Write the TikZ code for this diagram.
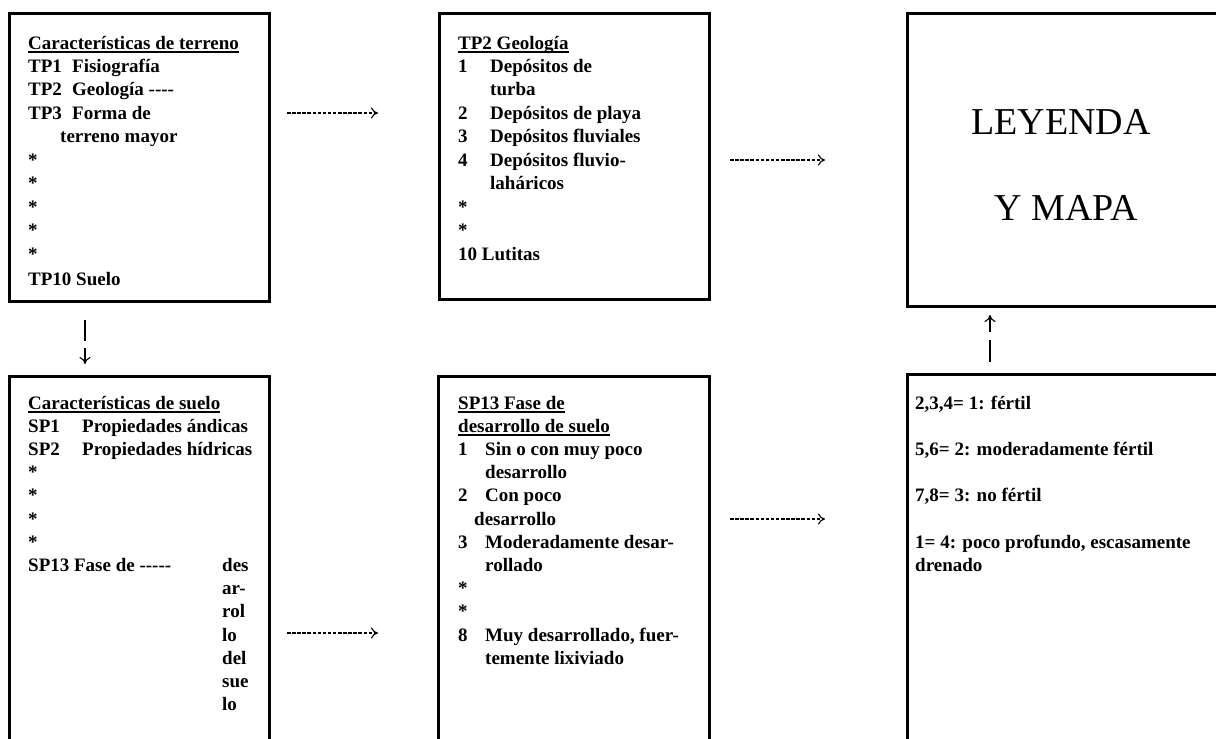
\documentclass[tikz,border=0pt]{standalone}
\usepackage{fontspec}
\setmainfont{Liberation Serif}
\usetikzlibrary{arrows.meta}
\newcommand\myul[1]{\setbox0\hbox{#1}\rlap{\rule[-3.6pt]{\wd0}{1.8pt}}\box0}
\tikzset{
 box/.style={draw, line width=2.6pt, anchor=north west, inner sep=0pt},
 txt/.style={anchor=base west, inner sep=0pt, font=\bfseries\fontsize{19}{23}\selectfont},
 big/.style={anchor=center, inner sep=0pt, font=\fontsize{38}{40}\selectfont},
 dasharrow/.style={line width=1.1pt, dash pattern=on 3.5pt off 1.6pt, -{To[length=7pt,width=11pt]}},
 vline/.style={line width=2pt},
 varrow/.style={line width=1.1pt, -{To[length=7pt,width=11pt]}},
}
\begin{document}
\begin{tikzpicture}[x=1pt,y=-1pt]
\useasboundingbox (0,0) rectangle (1216,739);
\fill[white] (0,0) rectangle (1216,739);
% boxes
\node[box, minimum width=260pt, minimum height=288pt] (b1) at (8,12) {};
\node[box, minimum width=270pt, minimum height=286pt] (b2) at (438,12) {};
\node[box, minimum width=316pt, minimum height=293pt] (b3) at (906,12) {};
\node[box, minimum width=260pt, minimum height=380pt] (b4) at (8,375) {};
\node[box, minimum width=271pt, minimum height=380pt] (b5) at (437,375) {};
\node[box, minimum width=316pt, minimum height=382pt] (b6) at (906,373) {};
% box 1
\node[txt] (t1h) at (28,49) {\myul{Características de terreno}};
\node[txt] (t1a) at (28,72) {TP1};
\node[txt] (t1b) at (72,72) {Fisiografía};
\node[txt] (t1c) at (28,95.5) {TP2};
\node[txt] (t1d) at (72,95.5) {Geología -{}-{}-{}-};
\node[txt] (t1e) at (28,119) {TP3};
\node[txt] (t1f) at (72,119) {Forma de};
\node[txt] (t1g) at (60,142.5) {terreno mayor};
\node[txt] (t1s1) at (28,166) {*};
\node[txt] (t1s2) at (28,189.5) {*};
\node[txt] (t1s3) at (28,213) {*};
\node[txt] (t1s4) at (28,236.5) {*};
\node[txt] (t1s5) at (28,260) {*};
\node[txt] (t1z) at (28,285) {TP10 Suelo};
% box 2
\node[txt] (t2h) at (458,49) {\myul{TP2 Geología}};
\node[txt] (t2n1) at (458,72) {1};
\node[txt] (t2a) at (490,72) {Depósitos de};
\node[txt] (t2b) at (490,95.5) {turba};
\node[txt] (t2n2) at (458,119) {2};
\node[txt] (t2c) at (490,119) {Depósitos de playa};
\node[txt] (t2n3) at (458,142.5) {3};
\node[txt] (t2d) at (490,142.5) {Depósitos fluviales};
\node[txt] (t2n4) at (458,166) {4};
\node[txt] (t2e) at (490,166) {Depósitos fluvio-};
\node[txt] (t2f) at (490,189.5) {laháricos};
\node[txt] (t2s1) at (458,213) {*};
\node[txt] (t2s2) at (458,236.5) {*};
\node[txt] (t2z) at (458,260) {10 Lutitas};
% box 3
\node[big] (t3a) at (1061,122) {LEYENDA};
\node[big] (t3b) at (1066,208) {Y MAPA};
% box 4
\node[txt] (t4h) at (28,409) {\myul{Características de suelo}};
\node[txt] (t4a) at (28,432.2) {SP1};
\node[txt] (t4b) at (82,432.2) {Propiedades ándicas};
\node[txt] (t4c) at (28,455.4) {SP2};
\node[txt] (t4d) at (82,455.4) {Propiedades hídricas};
\node[txt] (t4s1) at (28,478.6) {*};
\node[txt] (t4s2) at (28,501.8) {*};
\node[txt] (t4s3) at (28,525) {*};
\node[txt] (t4s4) at (28,548.2) {*};
\node[txt] (t4e) at (28,571.4) {SP13 Fase de -{}-{}-{}-{}-};
\node[txt] (t4f1) at (222,571.4) {des};
\node[txt] (t4f2) at (222,594.6) {ar-};
\node[txt] (t4f3) at (222,617.8) {rol};
\node[txt] (t4f4) at (222,641) {lo};
\node[txt] (t4f5) at (222,664.2) {del};
\node[txt] (t4f6) at (222,687.4) {sue};
\node[txt] (t4f7) at (222,710.6) {lo};
% box 5
\node[txt] (t5h1) at (458,409) {\myul{SP13 Fase de}};
\node[txt] (t5h2) at (458,432.2) {\myul{desarrollo de suelo}};
\node[txt] (t5n1) at (458,455.4) {1};
\node[txt] (t5a) at (485,455.4) {Sin o con muy poco};
\node[txt] (t5b) at (485,478.6) {desarrollo};
\node[txt] (t5n2) at (458,501.8) {2};
\node[txt] (t5c) at (485,501.8) {Con poco};
\node[txt] (t5d) at (474,525) {desarrollo};
\node[txt] (t5n3) at (458,548.2) {3};
\node[txt] (t5e) at (485,548.2) {Moderadamente desar-};
\node[txt] (t5f) at (485,571.4) {rollado};
\node[txt] (t5s1) at (458,594.6) {*};
\node[txt] (t5s2) at (458,617.8) {*};
\node[txt] (t5n8) at (458,641) {8};
\node[txt] (t5g) at (485,641) {Muy desarrollado, fuer-};
\node[txt] (t5h) at (485,664.2) {temente lixiviado};
% box 6
\node[txt] (t6a) at (915,409) {2,3,4= 1: fértil};
\node[txt] (t6b) at (915,455.4) {5,6= 2: moderadamente fértil};
\node[txt] (t6c) at (915,501.8) {7,8= 3: no fértil};
\node[txt] (t6d) at (915,548.2) {1= 4: poco profundo, escasamente};
\node[txt] (t6e) at (915,571.4) {drenado};
% connectors
\coordinate (a1s) at (287,113); \coordinate (a1e) at (378,113);
\coordinate (a2s) at (730,160); \coordinate (a2e) at (825,160);
\coordinate (a3s) at (287,633); \coordinate (a3e) at (378,633);
\coordinate (a4s) at (730,519); \coordinate (a4e) at (825,519);
\draw[dasharrow] (a1s) -- (a1e);
\draw[dasharrow] (a2s) -- (a2e);
\draw[dasharrow] (a3s) -- (a3e);
\draw[dasharrow] (a4s) -- (a4e);
\coordinate (d1) at (85,320); \coordinate (d2) at (85,341);
\coordinate (d3) at (85,348); \coordinate (d4) at (85,364);
\draw[vline] (d1) -- (d2);
\draw[varrow] (d3) -- (d4);
\coordinate (u1) at (990,332); \coordinate (u2) at (990,315);
\coordinate (u3) at (990,340); \coordinate (u4) at (990,362);
\draw[varrow] (u1) -- (u2);
\draw[vline] (u3) -- (u4);
\end{tikzpicture}
\end{document}
